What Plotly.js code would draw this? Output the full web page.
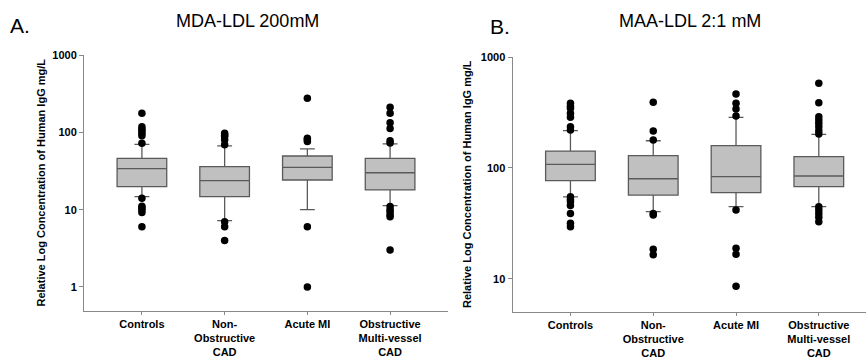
<!DOCTYPE html>
<html>
<head>
<meta charset="utf-8">
<script src="https://cdn.plot.ly/plotly-3.0.1.min.js"></script>
<style>html,body{margin:0;padding:0;background:#fff;}#chart{width:866px;height:359px;}</style>
</head>
<body>
<div id="chart"></div>
<script>
// Categories (shared by both panels)
const categories = ["Controls", "Non-<br>Obstructive<br>CAD", "Acute MI", "Obstructive<br>Multi-vessel<br>CAD"];

// Panel A: MDA-LDL 200mM (box statistics)
const mdaQ1 = [19.8, 14.7, 24.2, 18];
const mdaMedian = [34, 23.7, 35.3, 30];
const mdaQ3 = [46, 36, 49.4, 46];
const mdaLower = [14.7, 7.2, 10, 11.3];
const mdaUpper = [70, 67, 61, 71];
// Panel A outliers per category
const mdaOutControls = [176, 118, 110, 104, 97, 90, 72, 14, 11.1, 10.5, 10, 9.2, 6];
const mdaOutNonObs = [97, 92, 88, 80, 69, 7.0, 6.0, 4.0];
const mdaOutAcuteMI = [275, 84, 80, 76, 6, 1];
const mdaOutObstr = [211, 176, 133, 112, 78, 73, 11, 10, 9.4, 8.6, 8.1, 3.0];

// Panel B: MAA-LDL 2:1 mM (box statistics)
const maaQ1 = [76.9, 57, 60, 67.9];
const maaMedian = [108, 80, 83.5, 84.7];
const maaQ3 = [142, 129, 159, 126.5];
const maaLower = [55, 40.4, 44.8, 44.8];
const maaUpper = [217, 176, 286, 201];
// Panel B outliers per category
const maaOutControls = [383, 360, 345, 311, 286, 235, 220, 55, 52, 49.7, 46, 39, 31.8, 29.6];
const maaOutNonObs = [391, 215, 179, 39, 37.7, 18.5, 16.5];
const maaOutAcuteMI = [464, 383, 340, 294, 41.9, 18.9, 16.7, 8.6];
const maaOutObstr = [580, 387, 290, 271, 253, 235, 217, 202, 44.8, 41.9, 39, 36, 32.8];

// Tick values
const mdaTicks = [1, 10, 100, 1000];
const maaTicks = [10, 100, 1000];

const yTitle = "Relative Log Concentration of Human IgG mg/L";

function outlierTrace(groups, xa, ya) {
  const xs = [], ys = [];
  groups.forEach((g, i) => g.forEach(v => { xs.push(categories[i]); ys.push(v); }));
  return {
    type: "scatter", mode: "markers", x: xs, y: ys, xaxis: xa, yaxis: ya,
    marker: {color: "#000", size: 7.5}, hoverinfo: "skip", showlegend: false
  };
}

function boxTrace(q1, med, q3, lo, hi, xa, ya) {
  return {
    type: "box", x: categories, q1: q1, median: med, q3: q3,
    lowerfence: lo, upperfence: hi, xaxis: xa, yaxis: ya,
    fillcolor: "#c0c0c0", line: {color: "#5a5a5a", width: 1.3},
    width: 0.6, whiskerwidth: 0.3, boxpoints: false,
    hoverinfo: "skip", showlegend: false
  };
}

const data = [
  boxTrace(mdaQ1, mdaMedian, mdaQ3, mdaLower, mdaUpper, "x", "y"),
  outlierTrace([mdaOutControls, mdaOutNonObs, mdaOutAcuteMI, mdaOutObstr], "x", "y"),
  boxTrace(maaQ1, maaMedian, maaQ3, maaLower, maaUpper, "x2", "y2"),
  outlierTrace([maaOutControls, maaOutNonObs, maaOutAcuteMI, maaOutObstr], "x2", "y2")
];

const tickFont = {family: "Liberation Sans, Arial, sans-serif", size: 11, color: "#000", weight: "bold"};

const xCommon = {
  type: "category", categoryorder: "array", categoryarray: categories,
  showgrid: false, zeroline: false, showline: true, linecolor: "#888", linewidth: 1,
  ticks: "outside", ticklen: 3, tickcolor: "#888", tickfont: tickFont, fixedrange: true
};
const yCommon = {
  type: "log", showgrid: false, zeroline: false, showline: true, linecolor: "#888", linewidth: 1,
  ticks: "outside", ticklen: 4, tickcolor: "#888", tickfont: tickFont, fixedrange: true
};

const layout = {
  width: 866, height: 359,
  margin: {l: 0, r: 0, t: 0, b: 0},
  paper_bgcolor: "#fff", plot_bgcolor: "#fff",
  showlegend: false,
  font: {family: "Liberation Sans, Arial, sans-serif", color: "#000"},
  xaxis: Object.assign({}, xCommon, {domain: [84/866, 448/866], range: [-0.7, 3.7], anchor: "y"}),
  yaxis: Object.assign({}, yCommon, {domain: [1 - 310.5/359, 1 - 55/359], range: [-0.304, 3], anchor: "x",
    tickvals: mdaTicks, ticktext: mdaTicks.map(String),
    title: {text: yTitle, font: {size: 11, weight: "bold", color: "#000"}, standoff: 4}}),
  xaxis2: Object.assign({}, xCommon, {domain: [512.5/866, 1], range: [-0.7, 3.57], anchor: "y2"}),
  yaxis2: Object.assign({}, yCommon, {domain: [1 - 311.5/359, 1 - 57/359], range: [0.707, 3], anchor: "x2",
    tickvals: maaTicks, ticktext: maaTicks.map(String),
    title: {text: yTitle, font: {size: 11, weight: "bold", color: "#000"}, standoff: 6}}),
  annotations: [
    {text: "A.", x: 20/866, y: 1 - 25.5/359, xref: "paper", yref: "paper", showarrow: false,
     xanchor: "center", yanchor: "middle", font: {size: 21, color: "#000"}},
    {text: "MDA-LDL 200mM", x: 247.5/866, y: 1 - 21/359, xref: "paper", yref: "paper", showarrow: false,
     xanchor: "center", yanchor: "middle", font: {size: 18, color: "#000"}},
    {text: "B.", x: 499.5/866, y: 1 - 27/359, xref: "paper", yref: "paper", showarrow: false,
     xanchor: "center", yanchor: "middle", font: {size: 21, color: "#000"}},
    {text: "MAA-LDL 2:1 mM", x: 689.5/866, y: 1 - 21/359, xref: "paper", yref: "paper", showarrow: false,
     xanchor: "center", yanchor: "middle", font: {size: 18, color: "#000"}}
  ]
};

Plotly.newPlot("chart", data, layout, {displayModeBar: false, staticPlot: true});
</script>
</body>
</html>
